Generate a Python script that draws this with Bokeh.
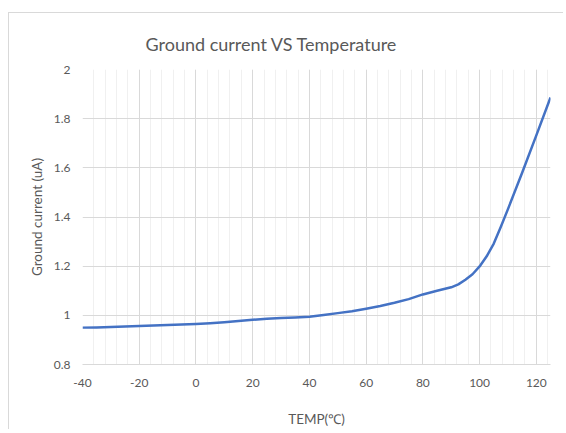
from bokeh.plotting import figure
from bokeh.models import FixedTicker, Range1d
from bokeh.embed import file_html
from bokeh.resources import INLINE

# Data
temp = [-40, -35, -30, -25, -20, -15, -10, -5, 0, 5, 10, 15, 20, 25, 30, 35, 40,
        45, 50, 55, 60, 65, 70, 75, 80, 85, 90, 92.5, 95, 97.5, 100, 102.5, 105,
        107.5, 110, 115, 120, 125]
current = [0.950, 0.951, 0.953, 0.955, 0.957, 0.959, 0.961, 0.963, 0.965, 0.968,
           0.972, 0.977, 0.982, 0.986, 0.989, 0.991, 0.994, 1.001, 1.009, 1.017,
           1.027, 1.038, 1.051, 1.066, 1.085, 1.100, 1.114, 1.126, 1.145, 1.167,
           1.199, 1.240, 1.292, 1.360, 1.432, 1.580, 1.732, 1.886]

x_ticks = [-40, -20, 0, 20, 40, 60, 80, 100, 120]
x_tick_labels = ["-40", "-20", "0", "20", "40", "60", "80", "100", "120"]
y_ticks = [0.8, 1.0, 1.2, 1.4, 1.6, 1.8, 2.0]
y_tick_labels = ["0.8", "1", "1.2", "1.4", "1.6", "1.8", "2"]

title_text = "Ground current VS Temperature"
x_label = "TEMP(℃)"
y_label = "Ground current (uA)"

FONT = "Lato"
TXT = "#595959"
GRID = "#d9d9d9"

p = figure(width=555, height=417, output_backend="svg", toolbar_location=None,
           x_range=Range1d(-40, 125), y_range=Range1d(0.8, 2.0),
           min_border_left=73, min_border_right=14, min_border_top=56,
           min_border_bottom=66, background_fill_color="white",
           border_fill_color="white")
p.margin = (12, 0, 0, 8)
p.styles = {"border-left": "1px solid #d9d9d9", "border-top": "1px solid #d9d9d9"}
p.outline_line_color = None

p.title.text = title_text
p.title.text_font = FONT
p.title.text_font_size = "18px"
p.title.text_font_style = "normal"
p.title.text_color = TXT
p.title.align = "left"
p.title.offset = 63
p.title.standoff = 29

minor = list(range(-40, 126, 4))
p.xaxis.ticker = FixedTicker(ticks=x_ticks, minor_ticks=minor)
p.xaxis.major_label_overrides = {t: s for t, s in zip(x_ticks, x_tick_labels)}
p.yaxis.ticker = FixedTicker(ticks=y_ticks)
p.yaxis.major_label_overrides = {t: s for t, s in zip(y_ticks, y_tick_labels)}

for ax in (p.xaxis, p.yaxis):
    ax.major_tick_line_color = None
    ax.minor_tick_line_color = None
    ax.major_label_text_font = FONT
    ax.major_label_text_font_size = "12px"
    ax.major_label_text_color = TXT
    ax.axis_label_text_font = FONT
    ax.axis_label_text_font_size = "13.5px"
    ax.axis_label_text_font_style = "normal"
    ax.axis_label_text_color = TXT
    ax.major_tick_out = 0
    ax.major_tick_in = 0

p.xaxis.axis_label = x_label
p.yaxis.axis_label = y_label
p.xaxis.axis_line_color = GRID
p.yaxis.axis_line_color = None
p.xaxis.major_label_standoff = 10
p.xaxis.axis_label_standoff = 21
p.yaxis.major_label_standoff = 12
p.yaxis.axis_label_standoff = 6

p.xgrid.grid_line_color = GRID
p.xgrid.minor_grid_line_color = "#f0f0f0"
p.ygrid.grid_line_color = GRID

p.line(temp, current, line_color="#4472C4", line_width=2.5, line_join="round")

open("out.html", "w").write(file_html(p, INLINE))
